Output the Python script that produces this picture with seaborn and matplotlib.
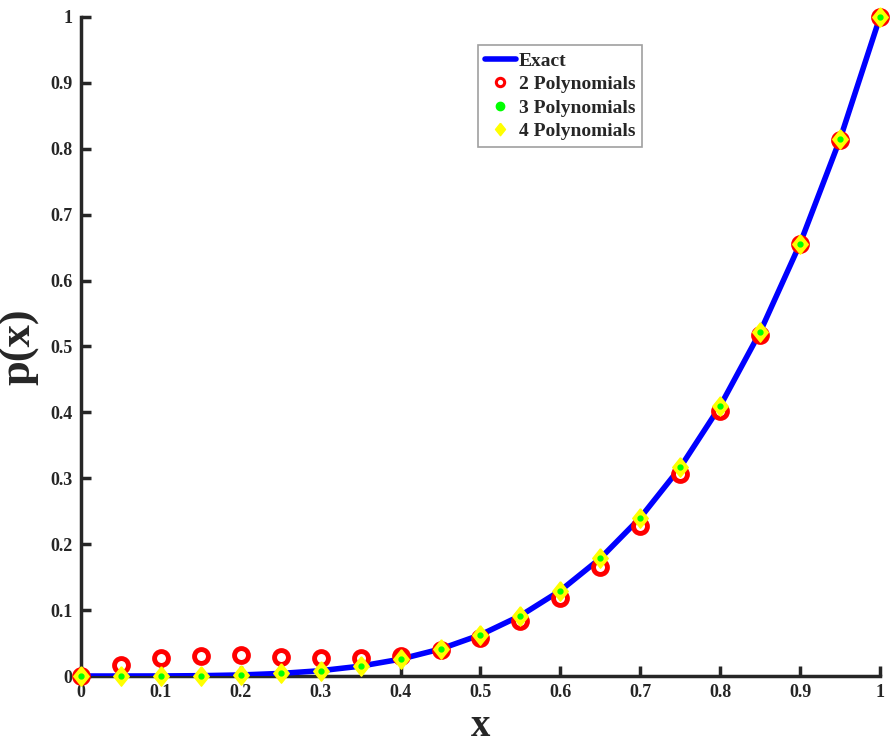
import numpy as np
import pandas as pd
import matplotlib
matplotlib.use('Agg')
import matplotlib.pyplot as plt
import seaborn as sns

x_vals = [0, 0.05, 0.1, 0.15, 0.2, 0.25, 0.3, 0.35, 0.4, 0.45, 0.5,
          0.55, 0.6, 0.65, 0.7, 0.75, 0.8, 0.85, 0.9, 0.95, 1.0]
exact = [0, 0.00001, 0.0001, 0.0005, 0.0016, 0.0039, 0.0081, 0.0150, 0.0256, 0.0410, 0.0625,
         0.0915, 0.1296, 0.1785, 0.2401, 0.3164, 0.4096, 0.5220, 0.6561, 0.8145, 1.0]
poly2 = [0, 0.017, 0.027, 0.031, 0.032, 0.029, 0.028, 0.027, 0.030, 0.040, 0.058,
         0.083, 0.118, 0.166, 0.228, 0.307, 0.402, 0.518, 0.655, 0.814, 1.0]
poly3 = [0, 0.0000, 0.0001, 0.0005, 0.0016, 0.0039, 0.0081, 0.0150, 0.0256, 0.0410, 0.0625,
         0.0915, 0.1296, 0.1785, 0.2401, 0.3164, 0.4096, 0.5220, 0.6561, 0.8145, 1.0]
poly4 = [0, 0.0000, 0.0001, 0.0005, 0.0016, 0.0039, 0.0081, 0.0150, 0.0256, 0.0410, 0.0625,
         0.0915, 0.1296, 0.1785, 0.2401, 0.3164, 0.4096, 0.5220, 0.6561, 0.8145, 1.0]
tick_labels = ['0', '0.1', '0.2', '0.3', '0.4', '0.5', '0.6', '0.7', '0.8', '0.9', '1']

df = pd.DataFrame({'x': x_vals, 'Exact': exact, 'P2': poly2, 'P3': poly3, 'P4': poly4})

sns.set_style('white')
plt.rcParams['font.family'] = ['Liberation Serif', 'DejaVu Serif']
plt.rcParams['font.weight'] = 'bold'

# wide diamond like the MATLAB one
diamond = [(0, 1), (0.8, 0), (0, -1), (-0.8, 0), (0, 1)]

fig = plt.figure(figsize=(8.92, 7.45), dpi=100)
ax = fig.add_axes([0.0908, 0.0926, 0.8957, 0.8846])

sns.lineplot(data=df, x='x', y='Exact', ax=ax, color='#0000ff', linewidth=4,
             label='Exact', zorder=2)
ax.plot(df['x'], df['P2'], linestyle='none', marker='o', markersize=10,
        markerfacecolor='white', markeredgecolor='red', markeredgewidth=3.5,
        label='2 Polynomials', zorder=3, clip_on=False)
ax.plot(df['x'], df['P4'], linestyle='none', marker=diamond, markersize=14,
        markerfacecolor='yellow', markeredgecolor='yellow', markeredgewidth=1,
        label='4 Polynomials', zorder=4, clip_on=False)
ax.plot(df['x'], df['P3'], linestyle='none', marker='o', markersize=3.5,
        markerfacecolor='#00ff00', markeredgecolor='#00ff00',
        label='3 Polynomials', zorder=5, clip_on=False)

ax.set_xlim(0, 1)
ax.set_ylim(0, 1)
ax.set_xticks(np.arange(0, 1.01, 0.1))
ax.set_yticks(np.arange(0, 1.01, 0.1))
ax.set_xticklabels(tick_labels)
ax.set_yticklabels(tick_labels)
ax.tick_params(bottom=True, left=True, direction='in', length=7, width=2.5,
               labelsize=13, pad=6, color='#262626')
for lbl in ax.get_xticklabels() + ax.get_yticklabels():
    lbl.set_fontweight('bold')

sns.despine(ax=ax)
for s in ['left', 'bottom']:
    ax.spines[s].set_linewidth(2.5)
    ax.spines[s].set_color('#262626')
    ax.spines[s].set_zorder(1)

ax.set_xlabel('x', fontsize=28, fontweight='bold', labelpad=5)
ax.set_ylabel('p(x)', fontsize=32, fontweight='bold', labelpad=8)

handles, labels = ax.get_legend_handles_labels()
order = [labels.index(l) for l in ['Exact', '2 Polynomials', '3 Polynomials', '4 Polynomials']]
leg = ax.legend([handles[i] for i in order], [labels[i] for i in order],
                loc='upper left', bbox_to_anchor=(0.497, 0.957), fontsize=14,
                frameon=True, fancybox=False, handlelength=1.6, handletextpad=0.15,
                borderpad=0.35, labelspacing=0.3, borderaxespad=0)
leg.get_frame().set_edgecolor('#888888')
leg.get_frame().set_linewidth(1.2)
for t in leg.get_texts():
    t.set_fontweight('bold')
for h in leg.legend_handles[1:]:
    h.set_markersize(6)
leg.legend_handles[1].set_markeredgewidth(2.2)
leg.legend_handles[3].set_markersize(9)

fig.savefig('out.png', dpi=100)
